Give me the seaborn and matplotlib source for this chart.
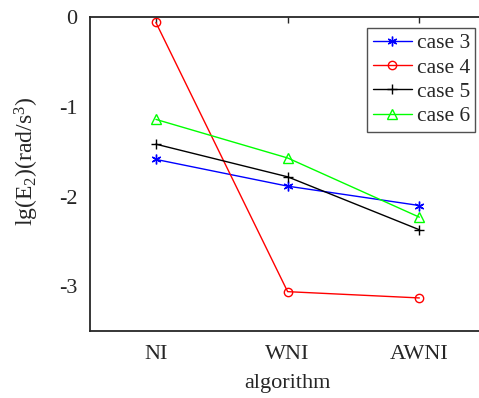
import pandas as pd
import seaborn as sns
import matplotlib.pyplot as plt

algorithms = ["NI", "WNI", "AWNI"]
case3 = [-1.586, -1.884, -2.10]
case4 = [-0.06, -3.06, -3.13]
case5 = [-1.416, -1.78, -2.37]
case6 = [-1.14, -1.57, -2.23]
cases = ["case 3", "case 4", "case 5", "case 6"]

rows = []
for name, vals in zip(cases, [case3, case4, case5, case6]):
    for i, (a, v) in enumerate(zip(algorithms, vals)):
        rows.append({"pos": i + 1, "algorithm": a, "case": name, "value": v})
df = pd.DataFrame(rows)

sns.set_style("white")
plt.rcParams["font.family"] = ["Liberation Serif", "DejaVu Serif"]
plt.rcParams["mathtext.default"] = "regular"

colors = {"case 3": "#0000ff", "case 4": "#ff0000", "case 5": "#000000", "case 6": "#00ff00"}
markers = {"case 3": (6, 2, 0), "case 4": "o", "case 5": "+", "case 6": "^"}
msizes = {"case 3": 7, "case 4": 6, "case 5": 7, "case 6": 7}

fig = plt.figure(figsize=(4.79, 3.98), dpi=100)
ax = fig.add_axes([0.188, 0.168, 0.825, 0.789])
for name in cases:
    sub = df[df["case"] == name]
    sns.lineplot(data=sub, x="pos", y="value", color=colors[name], marker=markers[name],
                 markersize=msizes[name], linewidth=1, markerfacecolor="none",
                 markeredgecolor=colors[name], markeredgewidth=1, label=name, ax=ax)

ax.set_xlim(0.5, 3.5)
ax.set_ylim(-3.5, 0)
ax.set_xticks([1, 2, 3])
ax.set_xticklabels(algorithms)
ax.set_yticks([-3, -2, -1, 0])
ax.set_yticklabels(["-3", "-2", "-1", "0"])
ax.set_xlabel("algorithm", fontsize=16, labelpad=7)
ax.set_ylabel("lg(E$_2$)(rad/s$^3$)", fontsize=17)
ax.yaxis.set_label_coords(-0.125, 0.54)
ax.tick_params(direction="in", length=4, width=1, labelsize=16, top=True, right=True,
               colors="#262626")
ax.tick_params(axis="x", pad=10)
ax.tick_params(axis="y", pad=9)
for s in ax.spines.values():
    s.set_linewidth(1.3)
    s.set_color("#262626")

leg = ax.legend(loc="upper right", bbox_to_anchor=(0.975, 0.966), fontsize=15.5,
                frameon=True, fancybox=False, edgecolor="#262626",
                handlelength=1.85, handletextpad=0.2, borderpad=0.25, labelspacing=0.2,
                borderaxespad=0)
leg.get_frame().set_linewidth(1)

fig.savefig("out.png", dpi=100)
